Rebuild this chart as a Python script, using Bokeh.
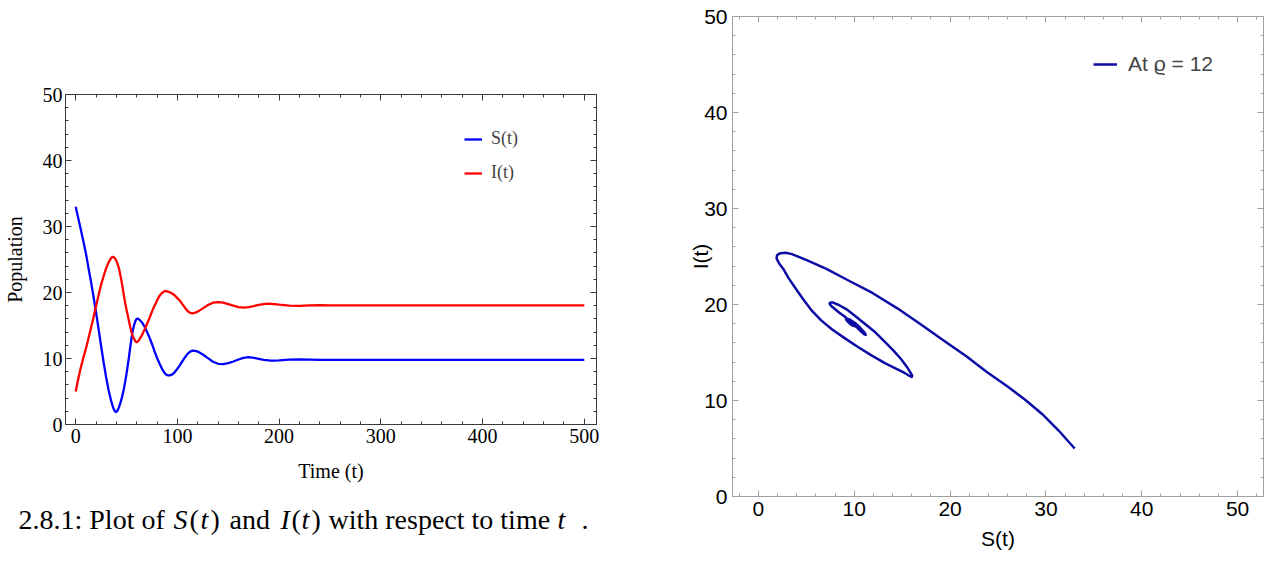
from bokeh.plotting import figure
from bokeh.models import (Range1d, LinearAxis, SingleIntervalTicker, Legend, LegendItem,
                          ColumnDataSource, CustomJSTickFormatter)
from bokeh.core.properties import value
from bokeh.embed import file_html
from bokeh.resources import INLINE

# ---------------- data ----------------
time = [0, 2.5, 5, 7.5, 10, 12.5, 15, 17.5, 20, 22.5, 25, 27.5, 30, 32.5, 35, 36.25, 37.5, 38.75,
        40, 41.25, 42.5, 43.75, 45, 46.25, 47.5, 48.75, 50, 51.25, 52.5, 53.75, 55, 56.25, 57.5,
        58.75, 60, 61.25, 62.5, 65, 67.5, 70, 72.5,
        75, 77.5, 80, 82.5, 85, 87.5, 88.75, 90, 91.25, 92.5, 95, 97.5, 100, 102.5, 105, 107.5,
        110, 112.5, 115, 117.5, 120, 125, 130, 135, 140, 145, 150, 155, 160, 165, 170, 175, 180,
        185, 190, 195, 200, 210, 220, 230, 240, 250, 275, 300, 350, 400, 450, 500]

S_vals = [33.0, 31.3, 29.6, 27.8, 26.0, 23.8, 21.7, 19.4, 17.0, 14.5, 11.9, 9.4, 7.1, 5.1, 3.5, 2.85,
          2.3, 1.95, 1.9, 2.15, 2.6, 3.15, 3.8, 4.6, 5.5, 6.55, 7.7, 9.0, 10.35, 11.8, 13.2, 14.3,
          15.1, 15.7, 16.0, 16.05, 15.9, 15.5,
          14.9, 14.1, 13.2, 12.2, 11.1, 10.1, 9.2, 8.4, 7.8, 7.6, 7.47, 7.43, 7.45, 7.6, 7.95, 8.45,
          9.0, 9.6, 10.2, 10.7, 11.05, 11.2, 11.15, 11.05, 10.6, 10.05, 9.5, 9.2, 9.15, 9.3, 9.55,
          9.85, 10.1, 10.2, 10.1, 9.95, 9.8, 9.7, 9.68, 9.72, 9.84, 9.88, 9.84, 9.8, 9.79, 9.8,
          9.8, 9.8, 9.8, 9.8, 9.8]

I_vals = [5.0, 6.9, 8.6, 10.1, 11.45, 13.0, 14.6, 16.2, 17.9, 19.6, 21.2, 22.5, 23.7, 24.6, 25.25,
          25.4, 25.35, 25.15, 24.8, 24.3, 23.7, 22.75, 21.8, 20.65, 19.45, 18.35, 17.4, 16.5, 15.6,
          14.7, 13.9, 13.35, 12.95, 12.6, 12.45,
          12.6, 12.85, 13.5, 14.3, 15.2, 16.1, 17.1, 18.0, 18.8, 19.5, 19.95, 20.2, 20.22, 20.17,
          20.1, 20.05, 19.85, 19.55, 19.15, 18.75, 18.2, 17.7, 17.2, 16.9, 16.85, 16.95, 17.1, 17.6,
          18.1, 18.45, 18.55, 18.45, 18.25, 18.0, 17.8, 17.72, 17.8, 17.95, 18.12, 18.24, 18.3,
          18.24, 18.15, 18.0, 17.98, 18.04, 18.07, 18.06, 18.05, 18.05, 18.05, 18.05, 18.05, 18.05]

series_labels = ["S(t)", "I(t)"]
phase_label = "At \u03f1 = 12"
caption_text = ["2.8.1: Plot of", "S", "(", "t", ")", "and", "I", "(", "t", ")",
                "with respect to time", "t", "."]
caption_style = ["normal", "italic", "normal", "italic", "normal", "normal", "italic", "normal",
                 "italic", "normal", "normal", "italic", "normal"]

SERIF = "Liberation Serif"
SANS = "Liberation Sans"

# page layout (pixels)
W_LEFT, H_TOP, H_CAP, W_RIGHT, H_ALL = 660, 500, 63, 615, 563
caption_px = [18, 173, 189, 200, 210, 229, 280, 291, 301, 311, 328, 557, 581]
caption_baseline_from_bottom = 44

src = ColumnDataSource(dict(t=time, S=S_vals, I=I_vals))


def style_axis(ax, color, font, size, labels=True, tick_in=6, minor_in=3):
    ax.axis_line_color = color
    ax.major_tick_line_color = color
    ax.minor_tick_line_color = color
    ax.axis_line_width = 1
    ax.major_tick_in = tick_in
    ax.major_tick_out = 0
    ax.minor_tick_in = minor_in
    ax.minor_tick_out = 0
    ax.major_label_text_font = font
    ax.major_label_text_font_size = size
    ax.major_label_text_color = "black"
    ax.axis_label_text_font = font
    ax.axis_label_text_font_size = size
    ax.axis_label_text_font_style = "normal"
    ax.axis_label_text_color = "black"
    if not labels:
        ax.formatter = CustomJSTickFormatter(code="return ''")


# ---------------- left panel: time series ----------------
p1 = figure(width=W_LEFT, height=H_TOP, x_range=Range1d(-10, 512), y_range=Range1d(0, 50),
            output_backend="svg", toolbar_location=None, x_axis_type=None, y_axis_type=None,
            min_border_left=62, min_border_right=64, min_border_top=94, min_border_bottom=76)
p1.outline_line_color = None

AX1 = "#3a3a3a"
xb = LinearAxis(ticker=SingleIntervalTicker(interval=100, num_minor_ticks=5), axis_label="Time (t)")
style_axis(xb, AX1, SERIF, "20px")
xb.major_label_standoff = 4
xb.axis_label_standoff = 14
p1.add_layout(xb, "below")
xt = LinearAxis(ticker=SingleIntervalTicker(interval=100, num_minor_ticks=5))
style_axis(xt, AX1, SERIF, "20px", labels=False)
p1.add_layout(xt, "above")
yl = LinearAxis(ticker=SingleIntervalTicker(interval=10, num_minor_ticks=5), axis_label="Population")
style_axis(yl, AX1, SERIF, "20px")
yl.major_label_standoff = 3
yl.axis_label_standoff = 14
p1.add_layout(yl, "left")
yr = LinearAxis(ticker=SingleIntervalTicker(interval=10, num_minor_ticks=5))
style_axis(yr, AX1, SERIF, "20px", labels=False)
p1.add_layout(yr, "right")

rS = p1.line("t", "S", source=src, line_color="#0000ff", line_width=2.3)
rI = p1.line("t", "I", source=src, line_color="#ff0000", line_width=2.3)

leg1 = Legend(items=[LegendItem(label=series_labels[0], renderers=[rS]),
                     LegendItem(label=series_labels[1], renderers=[rI])],
              location=(399, 241), orientation="vertical")
leg1.label_text_font = SERIF
leg1.label_text_font_size = "18px"
leg1.glyph_width = 18
leg1.glyph_height = 20
leg1.label_height = 20
leg1.spacing = 13
leg1.padding = 0
leg1.margin = 0
leg1.label_standoff = 9
leg1.border_line_color = None
leg1.background_fill_alpha = 0
p1.add_layout(leg1)

# ---------------- caption strip under the left panel ----------------
pc = figure(width=W_LEFT, height=H_CAP, x_range=Range1d(0, W_LEFT), y_range=Range1d(0, H_CAP),
            output_backend="svg", toolbar_location=None, x_axis_type=None, y_axis_type=None,
            min_border=0, min_border_left=0, min_border_right=0, min_border_top=0,
            min_border_bottom=0)
pc.outline_line_color = None
cap_src = ColumnDataSource(dict(x=caption_px, y=[caption_baseline_from_bottom] * len(caption_px),
                                text=caption_text, style=caption_style))
pc.text(x="x", y="y", text="text", source=cap_src, text_font=value(SERIF),
        text_font_size=value("28px"), text_font_style="style", text_color="black",
        text_align="left", text_baseline="alphabetic")

# ---------------- right panel: phase portrait ----------------
p2 = figure(width=W_RIGHT, height=H_ALL, x_range=Range1d(-2.7, 52.7), y_range=Range1d(0, 50),
            output_backend="svg", toolbar_location=None, x_axis_type=None, y_axis_type=None,
            min_border_left=72, min_border_right=12, min_border_top=16, min_border_bottom=67)
p2.outline_line_color = None

AX2 = "#a0a0a0"
xb2 = LinearAxis(ticker=SingleIntervalTicker(interval=10, num_minor_ticks=5), axis_label="S(t)")
style_axis(xb2, AX2, SANS, "21px")
xb2.major_label_standoff = 5
xb2.axis_label_standoff = 8
p2.add_layout(xb2, "below")
xt2 = LinearAxis(ticker=SingleIntervalTicker(interval=10, num_minor_ticks=5))
style_axis(xt2, AX2, SANS, "21px", labels=False)
p2.add_layout(xt2, "above")
yl2 = LinearAxis(ticker=SingleIntervalTicker(interval=10, num_minor_ticks=5), axis_label="I(t)")
style_axis(yl2, AX2, SANS, "21px")
yl2.major_label_standoff = 5
yl2.axis_label_standoff = -11
p2.add_layout(yl2, "left")
yr2 = LinearAxis(ticker=SingleIntervalTicker(interval=10, num_minor_ticks=5))
style_axis(yr2, AX2, SANS, "21px", labels=False)
p2.add_layout(yr2, "right")

rP = p2.line("S", "I", source=src, line_color="#0d0da6", line_width=2.5, line_join="round")

leg2 = Legend(items=[LegendItem(label=phase_label, renderers=[rP])], location=(361, 420))
leg2.label_text_font = SANS
leg2.label_text_font_size = "21px"
leg2.glyph_width = 24
leg2.glyph_height = 22
leg2.label_height = 22
leg2.padding = 0
leg2.margin = 0
leg2.label_standoff = 11
leg2.border_line_color = None
leg2.background_fill_alpha = 0
p2.add_layout(leg2)

# three independent roots arranged with a CSS grid (no frame alignment between panels)
html = file_html([p1, pc, p2], INLINE)
css = ("<style>html, body { margin:0 !important; padding:0 !important; }"
       "body { display:grid !important; grid-template-columns:%dpx %dpx; "
       "grid-template-rows:%dpx %dpx; grid-auto-flow:column; align-items:start; "
       "justify-items:start; }"
       "body > div:nth-of-type(3) { grid-row: 1 / span 2; }</style>"
       % (W_LEFT, W_RIGHT, H_TOP, H_CAP))
html = html.replace("</head>", css + "</head>", 1)
open("out.html", "w").write(html)
